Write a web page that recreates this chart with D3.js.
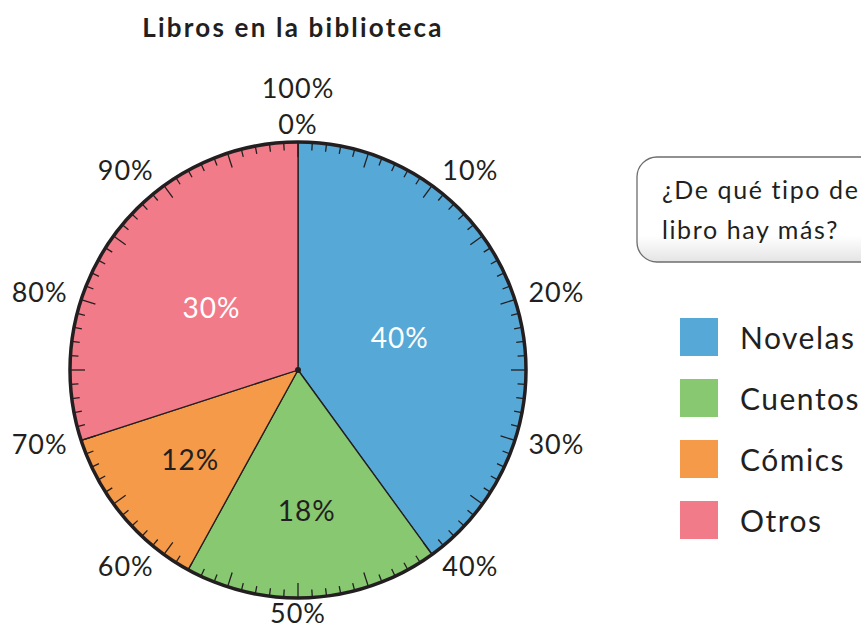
<!DOCTYPE html>
<html lang="es">
<head>
<meta charset="UTF-8"/>
<title>Libros en la biblioteca</title>
<script src="https://d3js.org/d3.v7.min.js"></script>
<style>
  body { margin: 0; background: #fff; }
  svg { display: block; font-family: Lato, "Open Sans", sans-serif; }
</style>
</head>
<body>
<script>
    var w = 861;
    var h = 627;

    // data
    var categories = ["Novelas", "Cuentos", "Cómics", "Otros"];
    var values = [40, 18, 12, 30];
    var colors = ["#56a8d6", "#87c870", "#f59a48", "#f27b8a"];
    var ringLabels = ["0%", "10%", "20%", "30%", "40%", "50%", "60%", "70%", "80%", "90%"];
    var ringValues = [0, 10, 20, 30, 40, 50, 60, 70, 80, 90];

    var cx = 298, cy = 370, r = 228;
    var ink = "#231f20";

    var svg = d3.select("body")
        .append("svg")
        .attr("width", w)
        .attr("height", h);

    // title
    svg.append("text")
        .attr("x", 293)
        .attr("y", 37)
        .attr("text-anchor", "middle")
        .attr("font-size", "26px")
        .attr("font-weight", "bold")
        .attr("letter-spacing", "2.2px")
        .attr("fill", ink)
        .text("Libros en la biblioteca");

    // percent -> angle
    var angle = d3.scaleLinear().domain([0, 100]).range([0, 2 * Math.PI]);

    var pie = d3.pie().sort(null).value(function(d) { return d; });
    var arcs = pie(values);
    var arc = d3.arc().innerRadius(0).outerRadius(r);

    var g = svg.append("g").attr("transform", "translate(" + cx + "," + cy + ")");

    g.selectAll("path.slice")
        .data(arcs)
        .enter()
        .append("path")
        .attr("class", "slice")
        .attr("d", arc)
        .attr("fill", function(d, i) { return colors[i]; })
        .attr("stroke", ink)
        .attr("stroke-width", 1.3)
        .attr("stroke-linejoin", "round");

    // tick marks every 1%
    var ticks = d3.range(0, 100);
    g.selectAll("line.tick")
        .data(ticks)
        .enter()
        .append("line")
        .attr("class", "tick")
        .attr("x1", function(d) { return Math.sin(angle(d)) * r; })
        .attr("y1", function(d) { return -Math.cos(angle(d)) * r; })
        .attr("x2", function(d) { var l = d % 5 == 0 ? 15 : 8; return Math.sin(angle(d)) * (r - l); })
        .attr("y2", function(d) { var l = d % 5 == 0 ? 15 : 8; return -Math.cos(angle(d)) * (r - l); })
        .attr("stroke", ink)
        .attr("stroke-width", 1.3);

    // outer ring
    g.append("circle")
        .attr("r", r)
        .attr("fill", "none")
        .attr("stroke", ink)
        .attr("stroke-width", 3.5);

    g.append("circle")
        .attr("r", 3)
        .attr("fill", ink);

    // ring labels
    g.selectAll("text.ring")
        .data(ringValues)
        .enter()
        .append("text")
        .attr("class", "ring")
        .attr("x", function(d) {
            var s = Math.sin(angle(d));
            if (Math.abs(s) < 0.01) return 0;
            return s * 237 + (s > 0 ? 33 : -33);
        })
        .attr("y", function(d) { return -Math.cos(angle(d)) * 244.5 - 2.5; })
        .attr("text-anchor", "middle")
        .attr("dominant-baseline", "central")
        .attr("font-size", "27px")
        .attr("letter-spacing", "1px")
        .attr("fill", ink)
        .text(function(d, i) { return ringLabels[i]; });

    g.append("text")
        .attr("x", 0)
        .attr("y", -283)
        .attr("text-anchor", "middle")
        .attr("dominant-baseline", "central")
        .attr("font-size", "27px")
        .attr("letter-spacing", "1px")
        .attr("fill", ink)
        .text("100%");

    // slice labels
    g.selectAll("text.val")
        .data(arcs)
        .enter()
        .append("text")
        .attr("class", "val")
        .attr("x", function(d) {
            var a = (d.startAngle + d.endAngle) / 2;
            var rr = d.data >= 25 ? 107 : 140;
            return Math.sin(a) * rr;
        })
        .attr("y", function(d) {
            var a = (d.startAngle + d.endAngle) / 2;
            var rr = d.data >= 25 ? 107 : 140;
            return -Math.cos(a) * rr;
        })
        .attr("text-anchor", "middle")
        .attr("dominant-baseline", "central")
        .attr("font-size", "28px")
        .attr("letter-spacing", "1px")
        .attr("fill", function(d) { return d.data >= 25 ? "#fff" : ink; })
        .text(function(d) { return d.data + "%"; });

    // question box
    var defs = svg.append("defs");
    var grad = defs.append("linearGradient")
        .attr("id", "boxShade")
        .attr("x1", 0).attr("y1", 0).attr("x2", 0).attr("y2", 1);
    grad.append("stop").attr("offset", "0.75").attr("stop-color", "#ffffff");
    grad.append("stop").attr("offset", "1").attr("stop-color", "#e4e4e4");

    svg.append("rect")
        .attr("x", 637)
        .attr("y", 157)
        .attr("width", 260)
        .attr("height", 105)
        .attr("rx", 20)
        .attr("fill", "url(#boxShade)")
        .attr("stroke", "#6d6d6d")
        .attr("stroke-width", 1.3);

    var q = svg.append("text")
        .attr("font-size", "25px")
        .attr("letter-spacing", "1.6px")
        .attr("fill", ink);
    q.append("tspan").attr("x", 662).attr("y", 199).text("¿De qué tipo de");
    q.append("tspan").attr("x", 662).attr("y", 239).text("libro hay más?");

    // legend
    var legend = svg.selectAll("g.legend")
        .data(categories)
        .enter()
        .append("g")
        .attr("class", "legend")
        .attr("transform", function(d, i) { return "translate(680," + (318 + i * 61) + ")"; });

    legend.append("rect")
        .attr("width", 38)
        .attr("height", 38)
        .attr("fill", function(d, i) { return colors[i]; });

    legend.append("text")
        .attr("x", 60)
        .attr("y", 19)
        .attr("dominant-baseline", "central")
        .attr("font-size", "30px")
        .attr("letter-spacing", "1.5px")
        .attr("fill", ink)
        .text(function(d) { return d; });
</script>
</body>
</html>
